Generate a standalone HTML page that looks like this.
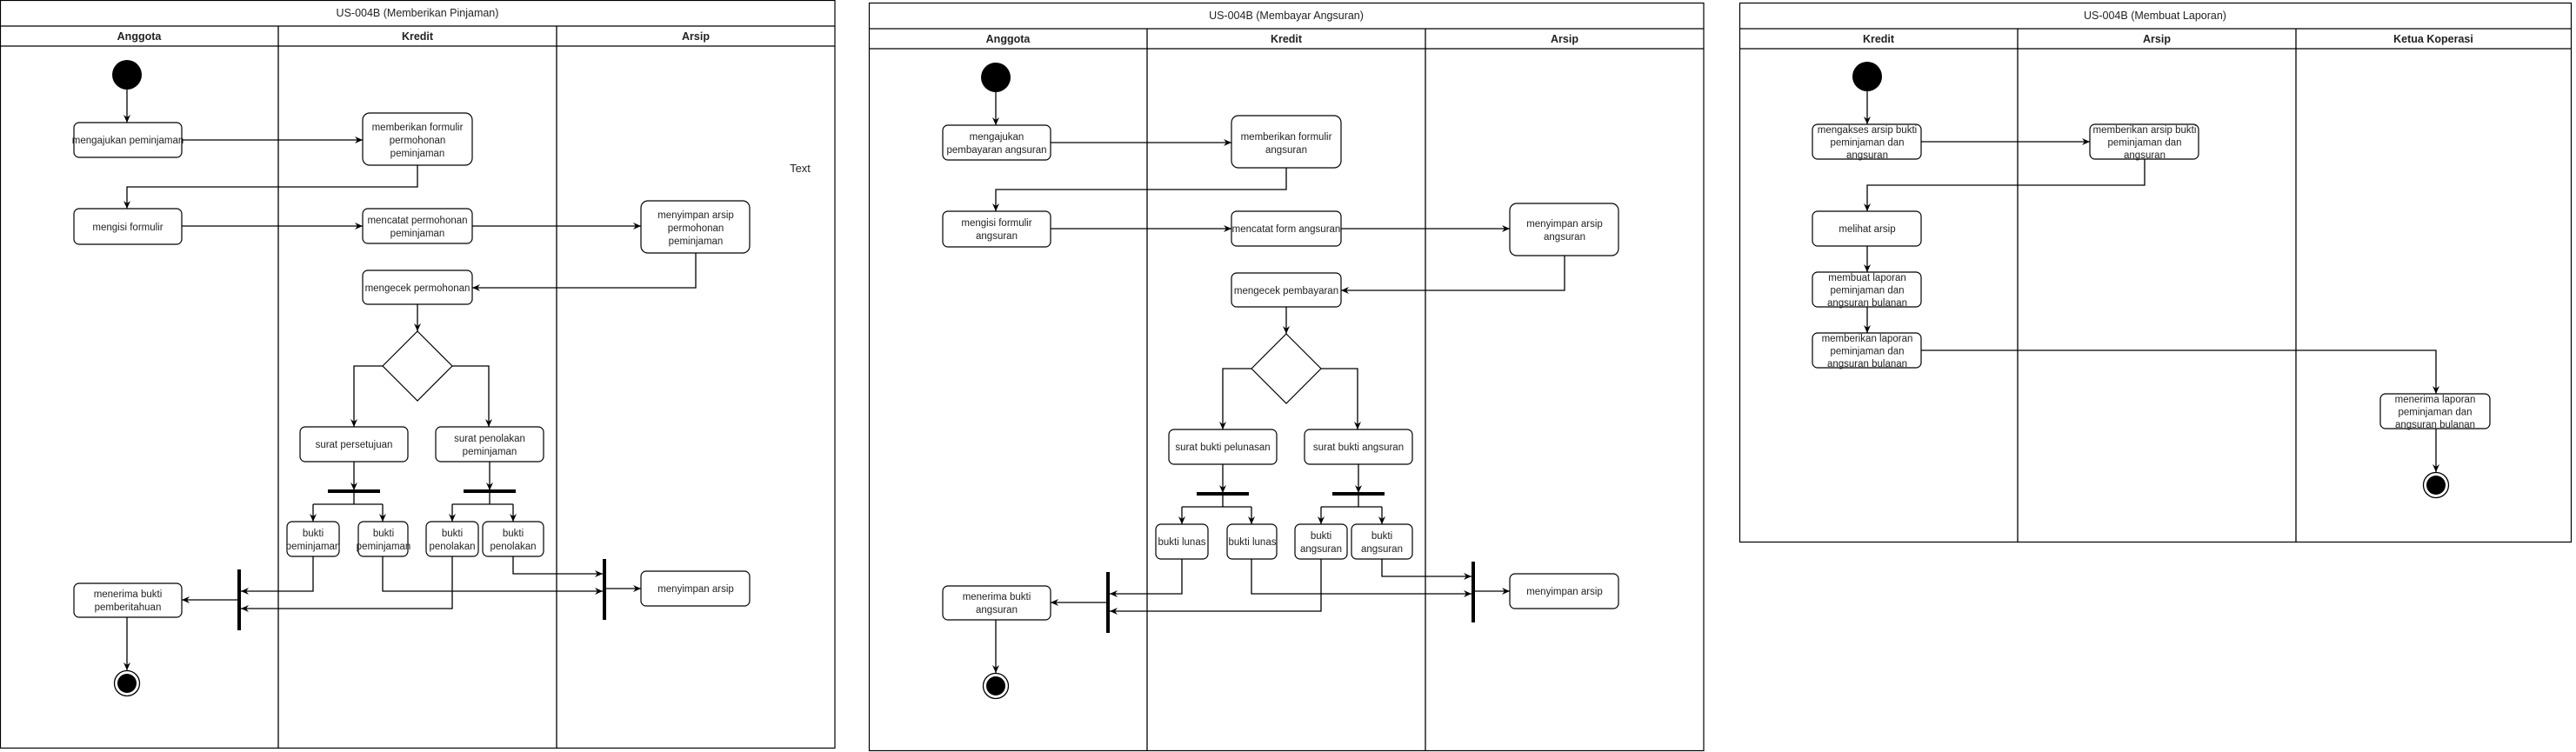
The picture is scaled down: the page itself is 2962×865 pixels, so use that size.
<!DOCTYPE html>
<html><head><meta charset="utf-8"><style>
html,body{margin:0;padding:0;background:#fff;}
svg{display:block;}
text{font-family:"Liberation Sans",Arial,sans-serif;fill:#222;}
.t{font-size:11.5px;text-anchor:middle;}
.h{font-size:12.5px;font-weight:bold;text-anchor:middle;}
.ti{font-size:12.5px;text-anchor:middle;}
.b{fill:#fff;stroke:#000;stroke-width:1.2;}
.l{fill:none;stroke:#000;stroke-width:1.3;}
.f{fill:#000;}
</style></head><body>
<svg width="2962" height="865" viewBox="0 0 2962 865" xmlns="http://www.w3.org/2000/svg">
<defs>
<marker id="a" markerWidth="10" markerHeight="10" refX="9" refY="5" orient="auto" markerUnits="userSpaceOnUse">
<path d="M0,1 L9,5 L0,9 L3,5 Z" fill="#000"/>
</marker>
</defs>
<rect width="2962" height="865" fill="#fff"/>

<!-- ================= Diagram 1 ================= -->
<g>
<rect x="0.5" y="0.5" width="959.5" height="860" fill="none" stroke="#000" stroke-width="1.2"/>
<line x1="0" y1="30" x2="960" y2="30" class="l"/>
<line x1="0" y1="53" x2="960" y2="53" class="l"/>
<line x1="320" y1="30" x2="320" y2="860" class="l" stroke-width="1"/>
<line x1="640" y1="30" x2="640" y2="860" class="l" stroke-width="1"/>
<text x="480" y="19" class="ti">US-004B (Memberikan Pinjaman)</text>
<text x="160" y="46" class="h">Anggota</text>
<text x="480" y="46" class="h">Kredit</text>
<text x="800" y="46" class="h">Arsip</text>
<text x="920" y="198" class="ti" style="font-size:13px">Text</text>

<circle cx="146" cy="86" r="17" class="f"/>
<path d="M146,103 V141" class="l" marker-end="url(#a)"/>
<rect x="85" y="141" width="124" height="40" rx="6" class="b"/>
<text x="147" y="165" class="t">mengajukan peminjaman</text>
<path d="M209,161 H417" class="l" marker-end="url(#a)"/>
<rect x="417" y="130" width="126" height="60" rx="8" class="b"/>
<text x="480" y="150" class="t"><tspan x="480">memberikan formulir</tspan><tspan x="480" dy="15">permohonan</tspan><tspan x="480" dy="15">peminjaman</tspan></text>
<path d="M480,190 V215 H146 V240" class="l" marker-end="url(#a)"/>
<rect x="85" y="240" width="124" height="41" rx="6" class="b"/>
<text x="147" y="265" class="t">mengisi formulir</text>
<path d="M209,260 H417" class="l" marker-end="url(#a)"/>
<rect x="417" y="240" width="126" height="40" rx="6" class="b"/>
<text x="480" y="257" class="t"><tspan x="480">mencatat permohonan</tspan><tspan x="480" dy="15">peminjaman</tspan></text>
<path d="M543,260 H737" class="l" marker-end="url(#a)"/>
<rect x="737" y="231" width="125" height="60" rx="8" class="b"/>
<text x="800" y="251" class="t"><tspan x="800">menyimpan arsip</tspan><tspan x="800" dy="15">permohonan</tspan><tspan x="800" dy="15">peminjaman</tspan></text>
<path d="M800,291 V331 H543" class="l" marker-end="url(#a)"/>
<rect x="417" y="311" width="126" height="39" rx="6" class="b"/>
<text x="480" y="335" class="t">mengecek permohonan</text>
<path d="M480,350 V381" class="l" marker-end="url(#a)"/>
<polygon points="480,381 520,421 480,461 440,421" class="b"/>
<path d="M440,421 H407 V491" class="l" marker-end="url(#a)"/>
<path d="M520,421 H562 V491" class="l" marker-end="url(#a)"/>
<rect x="345" y="491" width="124" height="40" rx="6" class="b"/>
<text x="407" y="515" class="t">surat persetujuan</text>
<rect x="501" y="491" width="124" height="40" rx="6" class="b"/>
<text x="563" y="508" class="t"><tspan x="563">surat penolakan</tspan><tspan x="563" dy="15">peminjaman</tspan></text>
<path d="M407,531 V564" class="l" marker-end="url(#a)"/>
<rect x="377" y="563" width="60" height="4" class="f"/>
<path d="M407,567 V580 M360,580 H440" class="l"/>
<path d="M360,580 V600" class="l" marker-end="url(#a)"/>
<path d="M440,580 V600" class="l" marker-end="url(#a)"/>
<path d="M563,531 V564" class="l" marker-end="url(#a)"/>
<rect x="533" y="563" width="60" height="4" class="f"/>
<path d="M563,567 V580 M520,580 H590" class="l"/>
<path d="M520,580 V600" class="l" marker-end="url(#a)"/>
<path d="M590,580 V600" class="l" marker-end="url(#a)"/>
<rect x="330" y="600" width="60" height="40" rx="6" class="b"/>
<text x="360" y="617" class="t"><tspan x="360">bukti</tspan><tspan x="360" dy="15">peminjaman</tspan></text>
<rect x="412" y="600" width="57" height="40" rx="6" class="b"/>
<text x="441" y="617" class="t"><tspan x="441">bukti</tspan><tspan x="441" dy="15">peminjaman</tspan></text>
<rect x="490" y="600" width="60" height="40" rx="6" class="b"/>
<text x="520" y="617" class="t"><tspan x="520">bukti</tspan><tspan x="520" dy="15">penolakan</tspan></text>
<rect x="555" y="600" width="70" height="40" rx="6" class="b"/>
<text x="590" y="617" class="t"><tspan x="590">bukti</tspan><tspan x="590" dy="15">penolakan</tspan></text>
<rect x="273" y="655" width="4" height="70" class="f"/>
<path d="M360,640 V680 H277" class="l" marker-end="url(#a)"/>
<path d="M520,640 V700 H277" class="l" marker-end="url(#a)"/>
<path d="M273,690 H209" class="l" marker-end="url(#a)"/>
<rect x="85" y="671" width="124" height="39" rx="6" class="b"/>
<text x="147" y="687" class="t"><tspan x="147">menerima bukti</tspan><tspan x="147" dy="15">pemberitahuan</tspan></text>
<path d="M146,710 V771" class="l" marker-end="url(#a)"/>
<circle cx="146" cy="786" r="14.5" fill="#fff" stroke="#000" stroke-width="1.3"/>
<circle cx="146" cy="786" r="11" class="f"/>
<rect x="693" y="643" width="4" height="70" class="f"/>
<path d="M590,640 V660 H693" class="l" marker-end="url(#a)"/>
<path d="M440,640 V680 H693" class="l" marker-end="url(#a)"/>
<path d="M697,677 H737" class="l" marker-end="url(#a)"/>
<rect x="737" y="657" width="125" height="40" rx="6" class="b"/>
<text x="800" y="681" class="t">menyimpan arsip</text>
</g>

<!-- ================= Diagram 2 ================= -->
<g transform="translate(999,3)">
<rect x="0.5" y="0.5" width="959.5" height="860" fill="none" stroke="#000" stroke-width="1.2"/>
<line x1="0" y1="30" x2="960" y2="30" class="l"/>
<line x1="0" y1="53" x2="960" y2="53" class="l"/>
<line x1="320" y1="30" x2="320" y2="860" class="l" stroke-width="1"/>
<line x1="640" y1="30" x2="640" y2="860" class="l" stroke-width="1"/>
<text x="480" y="19" class="ti">US-004B (Membayar Angsuran)</text>
<text x="160" y="46" class="h">Anggota</text>
<text x="480" y="46" class="h">Kredit</text>
<text x="800" y="46" class="h">Arsip</text>

<circle cx="146" cy="86" r="17" class="f"/>
<path d="M146,103 V141" class="l" marker-end="url(#a)"/>
<rect x="85" y="141" width="124" height="40" rx="6" class="b"/>
<text x="147" y="158" class="t"><tspan x="147">mengajukan</tspan><tspan x="147" dy="15">pembayaran angsuran</tspan></text>
<path d="M209,161 H417" class="l" marker-end="url(#a)"/>
<rect x="417" y="130" width="126" height="60" rx="8" class="b"/>
<text x="480" y="158" class="t"><tspan x="480">memberikan formulir</tspan><tspan x="480" dy="15">angsuran</tspan></text>
<path d="M480,190 V215 H146 V240" class="l" marker-end="url(#a)"/>
<rect x="85" y="240" width="124" height="41" rx="6" class="b"/>
<text x="147" y="257" class="t"><tspan x="147">mengisi formulir</tspan><tspan x="147" dy="15">angsuran</tspan></text>
<path d="M209,260 H417" class="l" marker-end="url(#a)"/>
<rect x="417" y="240" width="126" height="40" rx="6" class="b"/>
<text x="480" y="264" class="t">mencatat form angsuran</text>
<path d="M543,260 H737" class="l" marker-end="url(#a)"/>
<rect x="737" y="231" width="125" height="60" rx="8" class="b"/>
<text x="800" y="258" class="t"><tspan x="800">menyimpan arsip</tspan><tspan x="800" dy="15">angsuran</tspan></text>
<path d="M800,291 V331 H543" class="l" marker-end="url(#a)"/>
<rect x="417" y="311" width="126" height="39" rx="6" class="b"/>
<text x="480" y="335" class="t">mengecek pembayaran</text>
<path d="M480,350 V381" class="l" marker-end="url(#a)"/>
<polygon points="480,381 520,421 480,461 440,421" class="b"/>
<path d="M440,421 H407 V491" class="l" marker-end="url(#a)"/>
<path d="M520,421 H562 V491" class="l" marker-end="url(#a)"/>
<rect x="345" y="491" width="124" height="40" rx="6" class="b"/>
<text x="407" y="515" class="t">surat bukti pelunasan</text>
<rect x="501" y="491" width="124" height="40" rx="6" class="b"/>
<text x="563" y="515" class="t">surat bukti angsuran</text>
<path d="M407,531 V564" class="l" marker-end="url(#a)"/>
<rect x="377" y="563" width="60" height="4" class="f"/>
<path d="M407,567 V580 M360,580 H440" class="l"/>
<path d="M360,580 V600" class="l" marker-end="url(#a)"/>
<path d="M440,580 V600" class="l" marker-end="url(#a)"/>
<path d="M563,531 V564" class="l" marker-end="url(#a)"/>
<rect x="533" y="563" width="60" height="4" class="f"/>
<path d="M563,567 V580 M520,580 H590" class="l"/>
<path d="M520,580 V600" class="l" marker-end="url(#a)"/>
<path d="M590,580 V600" class="l" marker-end="url(#a)"/>
<rect x="330" y="600" width="60" height="40" rx="6" class="b"/>
<text x="360" y="624" class="t">bukti  lunas</text>
<rect x="412" y="600" width="57" height="40" rx="6" class="b"/>
<text x="441" y="624" class="t">bukti lunas</text>
<rect x="490" y="600" width="60" height="40" rx="6" class="b"/>
<text x="520" y="617" class="t"><tspan x="520">bukti</tspan><tspan x="520" dy="15">angsuran</tspan></text>
<rect x="555" y="600" width="70" height="40" rx="6" class="b"/>
<text x="590" y="617" class="t"><tspan x="590">bukti</tspan><tspan x="590" dy="15">angsuran</tspan></text>
<rect x="273" y="655" width="4" height="70" class="f"/>
<path d="M360,640 V680 H277" class="l" marker-end="url(#a)"/>
<path d="M520,640 V700 H277" class="l" marker-end="url(#a)"/>
<path d="M273,690 H209" class="l" marker-end="url(#a)"/>
<rect x="85" y="671" width="124" height="39" rx="6" class="b"/>
<text x="147" y="687" class="t"><tspan x="147">menerima bukti</tspan><tspan x="147" dy="15">angsuran</tspan></text>
<path d="M146,710 V771" class="l" marker-end="url(#a)"/>
<circle cx="146" cy="786" r="14.5" fill="#fff" stroke="#000" stroke-width="1.3"/>
<circle cx="146" cy="786" r="11" class="f"/>
<rect x="693" y="643" width="4" height="70" class="f"/>
<path d="M590,640 V660 H693" class="l" marker-end="url(#a)"/>
<path d="M440,640 V680 H693" class="l" marker-end="url(#a)"/>
<path d="M697,677 H737" class="l" marker-end="url(#a)"/>
<rect x="737" y="657" width="125" height="40" rx="6" class="b"/>
<text x="800" y="681" class="t">menyimpan arsip</text>
</g>

<!-- ================= Diagram 3 ================= -->
<g>
<rect x="2000.5" y="3.5" width="956" height="620" fill="none" stroke="#000" stroke-width="1.2"/>
<line x1="2000" y1="33" x2="2957" y2="33" class="l"/>
<line x1="2000" y1="56" x2="2957" y2="56" class="l"/>
<line x1="2320" y1="33" x2="2320" y2="624" class="l" stroke-width="1"/>
<line x1="2640" y1="33" x2="2640" y2="624" class="l" stroke-width="1"/>
<text x="2478" y="22" class="ti">US-004B (Membuat Laporan)</text>
<text x="2160" y="49" class="h">Kredit</text>
<text x="2480" y="49" class="h">Arsip</text>
<text x="2798" y="49" class="h">Ketua Koperasi</text>

<circle cx="2147" cy="88" r="17" class="f"/>
<path d="M2147,105 V143" class="l" marker-end="url(#a)"/>
<rect x="2084" y="143" width="125" height="40" rx="6" class="b"/>
<text x="2147" y="153" class="t"><tspan x="2147">mengakses arsip bukti</tspan><tspan x="2147" dy="14.5">peminjaman dan</tspan><tspan x="2147" dy="14.5">angsuran</tspan></text>
<path d="M2209,163 H2403" class="l" marker-end="url(#a)"/>
<rect x="2403" y="143" width="125" height="40" rx="6" class="b"/>
<text x="2466" y="153" class="t"><tspan x="2466">memberikan arsip bukti</tspan><tspan x="2466" dy="14.5">peminjaman dan</tspan><tspan x="2466" dy="14.5">angsuran</tspan></text>
<path d="M2466,183 V213 H2147 V243" class="l" marker-end="url(#a)"/>
<rect x="2084" y="243" width="125" height="40" rx="6" class="b"/>
<text x="2147" y="267" class="t">melihat arsip</text>
<path d="M2147,283 V313" class="l" marker-end="url(#a)"/>
<rect x="2084" y="313" width="125" height="40" rx="6" class="b"/>
<text x="2147" y="323" class="t"><tspan x="2147">membuat laporan</tspan><tspan x="2147" dy="14.5">peminjaman dan</tspan><tspan x="2147" dy="14.5">angsuran bulanan</tspan></text>
<path d="M2147,353 V383" class="l" marker-end="url(#a)"/>
<rect x="2084" y="383" width="125" height="40" rx="6" class="b"/>
<text x="2147" y="393" class="t"><tspan x="2147">memberikan laporan</tspan><tspan x="2147" dy="14.5">peminjaman dan</tspan><tspan x="2147" dy="14.5">angsuran bulanan</tspan></text>
<path d="M2209,403 H2801 V453" class="l" marker-end="url(#a)"/>
<rect x="2737" y="453" width="126" height="40" rx="6" class="b"/>
<text x="2800" y="463" class="t"><tspan x="2800">menerima laporan</tspan><tspan x="2800" dy="14.5">peminjaman dan</tspan><tspan x="2800" dy="14.5">angsuran bulanan</tspan></text>
<path d="M2801,493 V543" class="l" marker-end="url(#a)"/>
<circle cx="2801" cy="558" r="14.5" fill="#fff" stroke="#000" stroke-width="1.3"/>
<circle cx="2801" cy="558" r="11" class="f"/>
</g>
</svg>
</body></html>
